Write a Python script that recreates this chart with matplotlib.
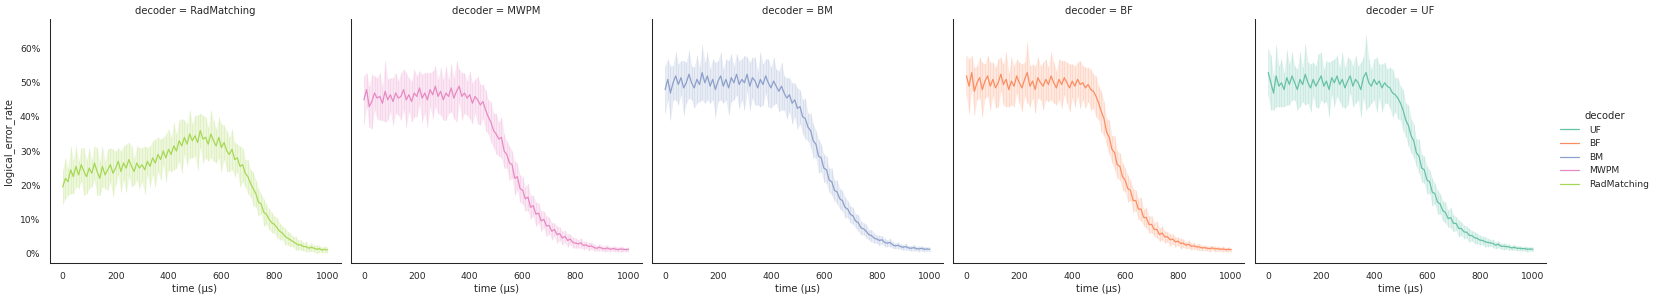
import matplotlib
matplotlib.use("Agg")
import matplotlib.pyplot as plt
import seaborn as sns
import numpy as np
from matplotlib.ticker import PercentFormatter
from matplotlib.lines import Line2D

sns.set_theme(style="white", context="notebook")
plt.rcParams['font.family'] = ['DejaVu Sans']

# time axis (µs)
time_us = list(range(0, 1001, 10))

col_order = ["RadMatching", "MWPM", "BM", "BF", "UF"]
hue_order = ["UF", "BF", "BM", "MWPM", "RadMatching"]
palette = dict(zip(hue_order, sns.color_palette("Set2", 5)))

# mean logical error rate (%) per decoder
rad_mean = [19.5, 22, 21, 24.5, 22.5, 25.5, 23, 26, 24, 22.5,
            25, 23.5, 26.5, 24, 22, 25.5, 23, 24.5, 26, 23.5,
            25, 27, 24, 26.5, 25, 27.5, 25.5, 24, 26.5, 25,
            26, 24.5, 27, 25.5, 28, 26.5, 29, 27.5, 30, 28,
            30.5, 29, 31.5, 30, 33, 31.5, 34, 32, 35, 33,
            34.5, 32.5, 36, 33.5, 34, 32, 35, 33, 31.5, 34,
            31, 32.5, 30, 29, 30.5, 27.5, 28, 25.5, 26, 23.5,
            22.5, 20.5, 19, 17.5, 15, 14.5, 12, 11.5, 10, 9,
            8.5, 7.5, 6.5, 6, 5, 4.5, 4, 3.5, 3, 2.5,
            2.5, 2, 2, 1.5, 1.8, 1.5, 1.2, 1.4, 1, 1.2, 1]
mwpm_mean = [45, 48, 43, 44.5, 47, 45.5, 46, 44, 47.5, 45,
             46.5, 44.5, 47, 45.5, 46, 48, 45, 46.5, 44.5, 47,
             46, 48.5, 45.5, 47, 45, 48, 46.5, 49, 46, 47.5,
             45, 47, 46, 48.5, 45.5, 47.5, 49, 46, 47, 45.5,
             46.5, 44, 46, 45, 43.5, 44.5, 42, 40, 38.5, 36,
             35, 33.5, 34, 30, 29, 26.5, 26, 22, 22.5, 19,
             18.5, 16, 16.5, 13.5, 14, 11.5, 11.8, 9.5, 10, 8,
             8.2, 6.5, 7, 5.5, 5.8, 4.5, 5, 3.8, 4.2, 3.2,
             3, 2.8, 3.1, 2.3, 2.5, 2, 2.2, 1.7, 1.5, 1.8,
             1.5, 1.3, 1.6, 1.2, 1.4, 1.3, 1.1, 1.3, 1.2, 1.1, 1.2]
bm_mean = [48, 51, 47, 50, 52, 49.5, 51.5, 48.5, 50, 52.5,
           50, 48.5, 51, 49.5, 53, 50, 52, 49, 51, 48,
           50.5, 52, 49, 51, 48.5, 51.5, 50, 52.5, 49.5, 51,
           50, 52.5, 49, 51.5, 50.5, 48.5, 51, 49.5, 52, 50,
           48.5, 50.5, 49, 47.5, 49, 47, 45.5, 46.5, 44, 45,
           42.5, 43, 40, 39.5, 37, 36, 33, 32, 28.5, 28,
           25, 24.5, 21.5, 21, 18.5, 18, 16, 15.5, 13.5, 13,
           11.5, 11, 9.5, 9, 7.5, 7.2, 6.5, 5.5, 5.2, 4.5,
           4.2, 3.8, 4, 3.2, 3, 3.2, 2.5, 2.2, 2.4, 2,
           1.8, 2, 1.6, 1.5, 1.7, 1.4, 1.3, 1.5, 1.2, 1.3, 1.2]
bf_mean = [52, 49, 53, 47.5, 50, 51.5, 48, 50.5, 52, 49,
           51, 48.5, 50, 52.5, 49.5, 51, 48, 50.5, 49, 52,
           50, 48.5, 51, 53, 49, 50.5, 48, 51.5, 50, 49,
           51, 49.5, 52, 50, 48.5, 51, 49.5, 51.5, 50, 48.5,
           50.5, 49, 51, 49.5, 50, 48.5, 49.5, 48, 47.5, 46,
           44, 41.5, 39.5, 35.5, 34, 30.5, 29.5, 26, 25.5, 22.5,
           21.5, 19, 18.5, 15.5, 15.5, 13, 13, 10.5, 10.5, 8.5,
           8.5, 7, 7, 5.5, 6, 4.8, 4.9, 4, 4.2, 3.4,
           3.6, 2.9, 3, 2.4, 2.7, 2.1, 2.2, 1.9, 1.9, 1.6,
           1.7, 1.5, 1.4, 1.6, 1.3, 1.4, 1.2, 1.3, 1.1, 1.2, 1.1]
uf_mean = [53, 50, 47, 52, 49, 50, 48, 51.5, 49.5, 52,
           50, 48, 51, 49.5, 52.5, 50, 48.5, 51, 49, 50.5,
           52, 49, 50.5, 48, 51.5, 50, 52, 49.5, 51, 48.5,
           50.5, 52, 49, 51, 50, 48, 51.5, 53, 50, 49,
           51, 49.5, 50.5, 48.5, 50, 49, 48.5, 47, 46.5, 45.5,
           44, 42, 39, 37.5, 34.5, 33, 29.5, 28.5, 25, 24.5,
           21.5, 21, 18, 17.5, 15, 14.5, 12.5, 12, 10.2, 10.5,
           8.8, 8.8, 7.3, 7.3, 6.3, 6.2, 5.3, 5.2, 4.6, 4.4,
           3.9, 3.8, 3.4, 3.2, 3.1, 2.9, 2.4, 2.7, 2.1, 2.1,
           2, 1.9, 1.6, 1.8, 1.5, 1.5, 1.4, 1.4, 1.2, 1.3, 1.2]

# confidence band half-width (%) per decoder
rad_err = [5, 6, 4, 7, 5, 6, 4, 5, 7, 5,
           6, 4, 5, 7, 5, 6, 4, 6, 5, 7,
           5, 4, 6, 5, 7, 5, 6, 4, 5, 6,
           5, 7, 4, 6, 5, 7, 5, 6, 4, 7,
           6, 5, 7, 5, 6, 8, 5, 6, 7, 5,
           6, 8, 5, 7, 6, 5, 7, 6, 5, 6,
           7, 5, 6, 5, 6, 5, 4, 6, 5, 4,
           5, 4, 5, 4, 4, 3, 4, 3, 3, 3,
           2.5, 3, 2.5, 2, 2.5, 2, 2, 1.5, 2, 1.5,
           1.5, 1.2, 1.5, 1, 1.2, 1, 1.2, 1, 0.8, 1, 0.8]
mwpm_err = [7, 5, 6, 8, 5, 6, 7, 5, 9, 6,
            5, 7, 6, 5, 7, 6, 8, 5, 6, 7,
            6, 5, 7, 6, 8, 5, 7, 6, 5, 7,
            6, 8, 5, 7, 6, 9, 5, 7, 6, 5,
            7, 6, 5, 7, 6, 5, 6, 5, 6, 5,
            6, 5, 6, 5, 4, 5, 4, 5, 4, 4,
            4, 3.5, 4, 3.5, 3, 3.5, 3, 3, 2.5, 3,
            2.5, 2.5, 2, 2.5, 2, 2, 1.8, 2, 1.5, 1.5,
            1.5, 1.2, 1.5, 1.2, 1, 1.2, 1, 1, 0.8, 1,
            0.8, 0.8, 1, 0.8, 0.7, 0.8, 0.7, 0.8, 0.7, 0.6, 0.7]
bm_err = [7, 6, 8, 5, 7, 6, 5, 8, 6, 7,
          5, 6, 7, 5, 8, 6, 7, 5, 6, 8,
          6, 7, 5, 6, 8, 7, 5, 6, 7, 6,
          8, 5, 7, 6, 7, 5, 8, 6, 5, 7,
          6, 7, 5, 6, 7, 5, 6, 5, 6, 5,
          6, 5, 5, 6, 4, 5, 5, 4, 5, 4,
          4, 4, 3.5, 4, 3, 3.5, 3, 3, 3, 2.5,
          2.5, 2.5, 2, 2.5, 2, 1.8, 2, 1.5, 1.8, 1.5,
          1.2, 1.5, 1.2, 1.2, 1, 1.2, 1, 0.8, 1, 0.8,
          0.8, 1, 0.7, 0.8, 0.9, 0.7, 0.8, 0.7, 0.8, 0.6, 0.7]
bf_err = [6, 8, 5, 7, 5, 6, 8, 5, 6, 7,
          5, 6, 7, 5, 6, 8, 5, 7, 6, 5,
          6, 7, 5, 9, 6, 5, 7, 6, 5, 7,
          6, 5, 7, 6, 5, 6, 7, 5, 6, 7,
          5, 6, 5, 7, 5, 6, 5, 6, 5, 6,
          5, 6, 5, 4, 5, 4, 5, 4, 4, 4,
          3.5, 4, 3, 3.5, 3, 3, 3.5, 2.5, 3, 2.5,
          2.5, 2, 2.5, 2, 2, 1.8, 1.5, 1.8, 1.5, 1.5,
          1.2, 1.5, 1.2, 1, 1.2, 1, 1, 0.8, 1, 0.8,
          0.8, 0.7, 0.9, 0.7, 0.8, 0.7, 0.6, 0.8, 0.6, 0.7, 0.6]
uf_err = [7, 8, 5, 9, 6, 7, 5, 8, 6, 7,
          5, 6, 8, 5, 9, 6, 7, 5, 6, 8,
          7, 5, 6, 8, 5, 7, 6, 5, 8, 6,
          7, 5, 6, 7, 5, 8, 6, 11, 7, 5,
          6, 8, 5, 7, 6, 5, 6, 7, 5, 6,
          5, 6, 5, 6, 5, 5, 4, 5, 4, 4,
          4, 3.5, 4, 3, 3.5, 3, 3, 3, 2.5, 3,
          2.5, 2, 2.5, 2, 2, 1.8, 2, 1.5, 1.8, 1.5,
          1.5, 1.2, 1.5, 1.2, 1, 1.2, 1, 1, 0.8, 1,
          0.8, 0.9, 0.7, 0.8, 0.7, 0.8, 0.6, 0.7, 0.8, 0.6, 0.7]

means = {"RadMatching": rad_mean, "MWPM": mwpm_mean, "BM": bm_mean, "BF": bf_mean, "UF": uf_mean}
errs = {"RadMatching": rad_err, "MWPM": mwpm_err, "BM": bm_err, "BF": bf_err, "UF": uf_err}

xticks = [0, 200, 400, 600, 800, 1000]
yticks = [0, 10, 20, 30, 40, 50, 60]

W, H = 1660, 301
DPI = 60
fig = plt.figure(figsize=(W / DPI, H / DPI), dpi=DPI)

lefts_px = [49.5, 350.7, 651.9, 953.2, 1255.0]
ax_w_px = 291.0
top_px, bot_px = 19.3, 263.3

axes = []
for i, dec in enumerate(col_order):
    ax = fig.add_axes([lefts_px[i] / W, 1 - bot_px / H, ax_w_px / W, (bot_px - top_px) / H],
                      sharey=axes[0] if axes else None)
    axes.append(ax)
    c = palette[dec]
    x = np.array(time_us)
    m = np.array(means[dec])
    e = np.array(errs[dec])
    ax.fill_between(x, m - e, m + e, color=c, alpha=0.2, linewidth=0)
    ax.vlines(x, m - e, m + e, color=c, alpha=0.22, linewidth=0.9)
    ax.plot(x, m, color=c, linewidth=1.5)
    ax.set_xlim(-50, 1050)
    ax.set_ylim(-2.9, 68.6)
    ax.set_xticks(xticks)
    ax.set_yticks(yticks)
    ax.yaxis.set_major_formatter(PercentFormatter(100, decimals=0))
    ax.set_title(f"decoder = {dec}", fontsize=12)
    ax.set_xlabel("time (µs)", fontsize=12, labelpad=3)
    ax.tick_params(labelsize=11, length=0, pad=11)
    for s in ["top", "right"]:
        ax.spines[s].set_visible(False)
    for s in ["left", "bottom"]:
        ax.spines[s].set_color("#262626")
        ax.spines[s].set_linewidth(1.25)
    if i == 0:
        ax.set_ylabel("logical_error_rate", fontsize=12, labelpad=7)
    else:
        ax.tick_params(labelleft=False)

handles = [Line2D([], [], color=palette[d], linewidth=1.5) for d in hue_order]
leg = fig.legend(handles, hue_order, title="decoder", loc="center left",
                 bbox_to_anchor=(1552 / W, 1 - 150 / H), frameon=False,
                 fontsize=11, title_fontsize=12, handletextpad=1.2)

fig.savefig("out.png", dpi=DPI)
